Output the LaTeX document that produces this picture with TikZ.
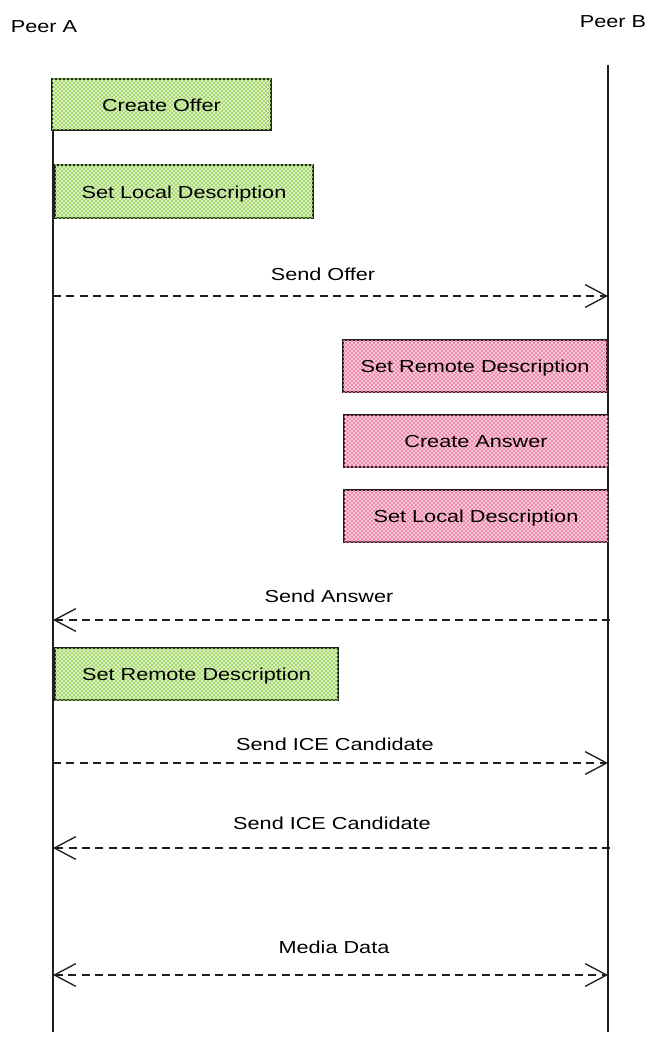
\documentclass[tikz,border=0pt]{standalone}
\usepackage{fontspec}
\setmainfont[FakeStretch=1.25]{Liberation Sans}
\usetikzlibrary{arrows.meta,patterns}
\definecolor{ink}{HTML}{1E1E1E}
\definecolor{greenfill}{HTML}{E0F3CB}
\definecolor{greenline}{HTML}{9CD65E}
\definecolor{pinkfill}{HTML}{FAD3DF}
\definecolor{pinkline}{HTML}{EE7CA0}
\tikzset{
  lbl/.style={font=\fontsize{13}{15}\selectfont, text=black, inner sep=0pt},
  actbox/.style={draw=ink, line width=1pt, rectangle, inner sep=0pt,
    font=\fontsize{13}{15}\selectfont, text=black, minimum height=39pt,
    text height=10pt, text depth=0pt},
  greenbox/.style={actbox, fill=greenfill,
    postaction={pattern=north east lines, pattern color=greenline},
    postaction={pattern=north west lines, pattern color=greenline}},
  pinkbox/.style={actbox, fill=pinkfill,
    postaction={pattern=north east lines, pattern color=pinkline},
    postaction={pattern=north west lines, pattern color=pinkline}},
  lifeline/.style={draw=ink, line width=1pt},
  msg/.style={draw=ink, line width=1pt, dash pattern=on 6pt off 4pt,
    arrows={-Straight Barb[length=16pt, width=17pt, line width=1pt]}},
  msgboth/.style={msg, arrows={Straight Barb[length=16pt, width=17pt, line width=1pt]-Straight Barb[length=16pt, width=17pt, line width=1pt]}},
}
\begin{document}
\begin{tikzpicture}[x=0.75pt, y=-0.75pt]
\useasboundingbox (0,0) rectangle (658,1045);

% participants
\node[lbl] (peerA) at (44,27) {Peer A};
\node[lbl] (peerB) at (613,22) {Peer B};

% lifelines
\coordinate (atop) at (53,78);
\coordinate (abot) at (53,1032);
\coordinate (btop) at (608,65);
\coordinate (bbot) at (608,1032);
\draw[lifeline] (atop) -- (abot);
\draw[lifeline] (btop) -- (bbot);

% activity boxes
\node[greenbox, minimum width=164.25pt, minimum height=38.25pt] (createoffer) at (161.5,104.5) {Create Offer};
\node[greenbox, minimum width=193.5pt, minimum height=39.75pt] (setlocalA) at (184,191.5) {Set Local Description};
\node[pinkbox, minimum width=198pt] (setremoteB) at (475,366) {Set Remote Description};
\node[pinkbox, minimum width=198pt] (createanswer) at (476,441) {Create Answer};
\node[pinkbox, minimum width=198pt] (setlocalB) at (476,516) {Set Local Description};
\node[greenbox, minimum width=212.25pt] (setremoteA) at (196.5,674) {Set Remote Description};

% message end points
\coordinate (a1) at (53,296);  \coordinate (b1) at (608,296);
\coordinate (a2) at (53,620);  \coordinate (b2) at (610,620);
\coordinate (a3) at (53,763);  \coordinate (b3) at (608,763);
\coordinate (a4) at (53,848);  \coordinate (b4) at (610,848);
\coordinate (a5) at (53,975);  \coordinate (b5) at (608,975);

\draw[msg] (a1) -- (b1);
\node[lbl] (l1) at (323,274) {Send Offer};
\draw[msg] (b2) -- (a2);
\node[lbl] (l2) at (329,596) {Send Answer};
\draw[msg] (a3) -- (b3);
\node[lbl] (l3) at (335,744) {Send ICE Candidate};
\draw[msg] (b4) -- (a4);
\node[lbl] (l4) at (332,823) {Send ICE Candidate};
\draw[msgboth] (a5) -- (b5);
\node[lbl] (l5) at (334,947) {Media Data};
\end{tikzpicture}
\end{document}
